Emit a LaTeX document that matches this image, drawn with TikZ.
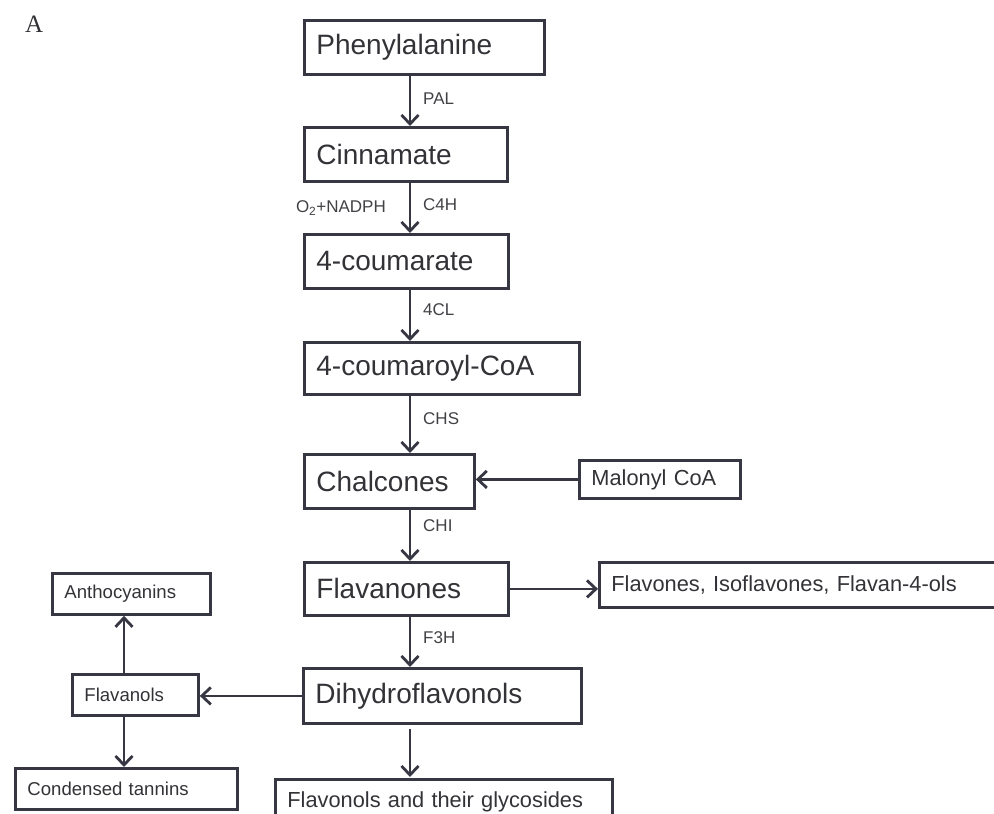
\documentclass[tikz,border=0pt]{standalone}
\usepackage{fontspec}
\setmainfont{Liberation Sans}
\newfontfamily\serifA{Liberation Serif}
\usetikzlibrary{arrows.meta}
\definecolor{ln}{RGB}{55,55,68}
\definecolor{txt}{RGB}{50,50,55}
\definecolor{lbl}{RGB}{65,65,70}
\tikzset{
  bx/.style={draw=ln, line width=2.8pt, anchor=north west, inner xsep=12pt, inner ysep=0pt, align=left, text=txt},
  big/.style={font=\fontsize{28}{32}\selectfont},
  mid/.style={font=\fontsize{21.8}{26}\selectfont},
  sml/.style={font=\fontsize{18.6}{22}\selectfont},
  enz/.style={font=\fontsize{17}{20}\selectfont, text=lbl, inner sep=0pt},
  arr/.style={draw=ln, line width=2.8pt, -{Straight Barb[length=9pt,width=17pt]}}
}
\begin{document}
\begin{tikzpicture}[x=1pt,y=-1pt]
\useasboundingbox (0,0) rectangle (994,814);
\begin{scope}
\clip (0,0) rectangle (994,814);
\node[anchor=base west, inner sep=0pt, text=txt, font=\serifA\fontsize{25}{28}\selectfont] (lA) at (25,32) {A};

\node[bx, big, text width=216pt, minimum height=54pt] (phe) at (303,19) {Phenylalanine};
\node[bx, big, text width=179pt, minimum height=54pt] (cin) at (303,126) {Cinnamate};
\node[bx, big, text width=180pt, minimum height=54pt] (cou) at (303,233) {4-coumarate};
\node[bx, big, text width=251pt, minimum height=52pt] (coa) at (303,341) {4-coumaroyl-CoA};
\node[bx, big, text width=146pt, minimum height=54pt] (cha) at (303,453) {Chalcones};
\node[bx, mid, text width=137pt, minimum height=38pt] (mal) at (578,459) {Malonyl CoA};
\node[bx, big, text width=180pt, minimum height=53pt] (fla) at (303,561) {Flavanones};
\node[bx, mid, text width=396pt, minimum height=45pt] (flv) at (598,561) {Flavones, Isoflavones, Flavan-4-ols};
\node[bx, big, text width=254pt, minimum height=55pt] (dih) at (302,667) {Dihydroflavonols};
\node[bx, sml, text width=134pt, minimum height=41pt] (ant) at (51,572) {Anthocyanins};
\node[bx, sml, text width=102pt, minimum height=41pt] (fln) at (71,673) {Flavanols};
\node[bx, sml, text width=198pt, minimum height=41pt] (tan) at (14,767) {Condensed tannins};
\node[bx, mid, text width=313pt, minimum height=44pt] (fol) at (274,778) {Flavonols and their glycosides};

\coordinate (X) at (410,0);
\coordinate (Y) at (124,0);

\draw[arr] (phe.south -| X) -- (cin.north -| X);
\draw[arr] (cin.south -| X) -- (cou.north -| X);
\draw[arr] (cou.south -| X) -- (coa.north -| X);
\draw[arr] (coa.south -| X) -- (cha.north -| X);
\draw[arr] (cha.south -| X) -- (fla.north -| X);
\draw[arr] (fla.south -| X) -- (dih.north -| X);
\draw[arr, shorten <=4pt, shorten >=1pt] (dih.south -| X) -- (fol.north -| X);
\draw[arr] (mal.west) -- (mal.west -| cha.east);
\draw[arr] (fla.east) -- (fla.east -| flv.west);
\draw[arr] (dih.west) -- (dih.west -| fln.east);
\draw[arr] (fln.north -| Y) -- (ant.south -| Y);
\draw[arr] (fln.south -| Y) -- (tan.north -| Y);

\node[enz, anchor=west] (lpal) at (423,99) {PAL};
\node[enz, anchor=west] (lc4h) at (423,205) {C4H};
\node[enz, anchor=east] (lo2) at (386,208) {O\textsubscript{2}+NADPH};
\node[enz, anchor=west] (l4cl) at (423,310) {4CL};
\node[enz, anchor=west] (lchs) at (423,419) {CHS};
\node[enz, anchor=west] (lchi) at (423,526) {CHI};
\node[enz, anchor=west] (lf3h) at (423,638) {F3H};
\end{scope}
\end{tikzpicture}
\end{document}
